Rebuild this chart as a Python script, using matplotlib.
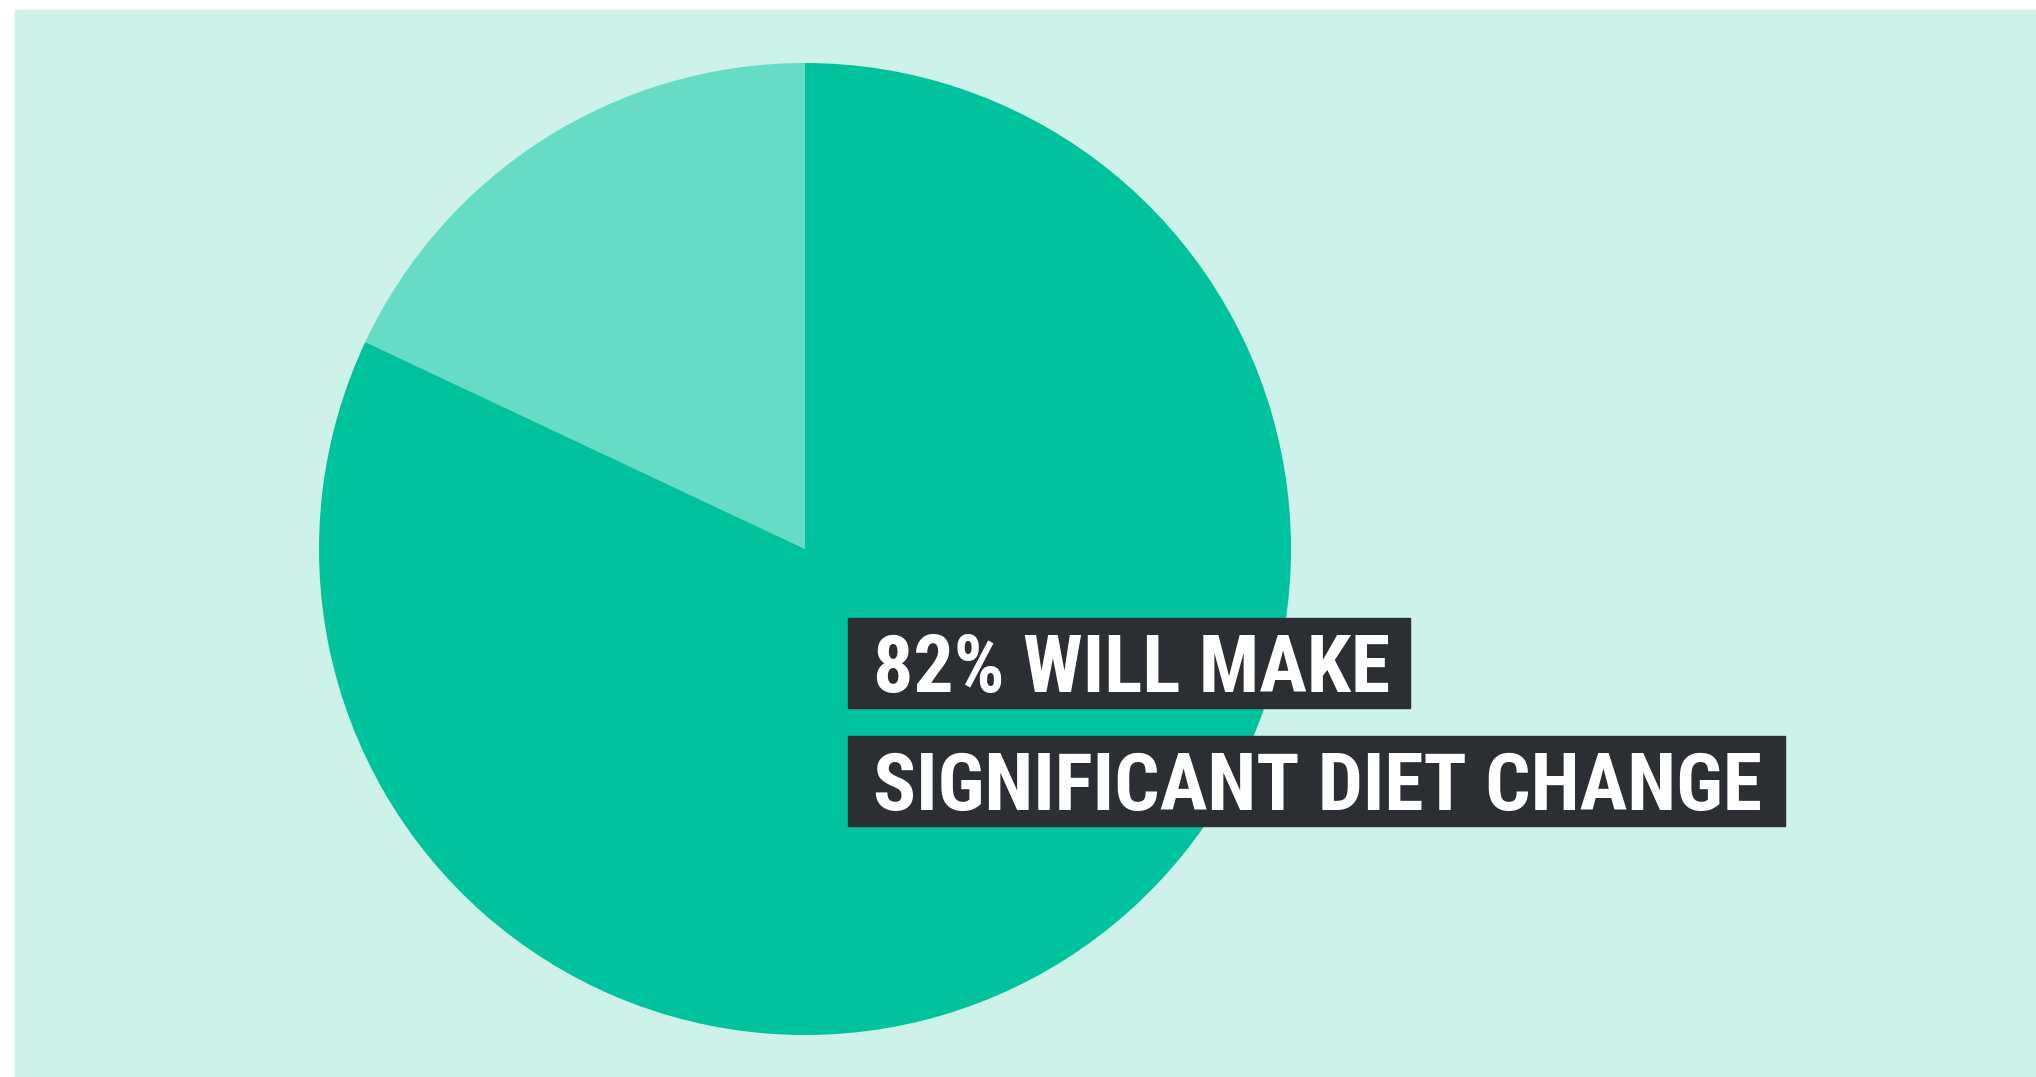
import matplotlib
matplotlib.use("Agg")
import matplotlib.pyplot as plt
from matplotlib import font_manager
from matplotlib.patches import Rectangle

# ---- data ---------------------------------------------------------------- #
labels = ["Will not", "Will make significant diet change"]
shares = [18, 82]
slice_colors = ["#66dcc4", "#00c29d"]
caption_lines = ["82% WILL MAKE", "SIGNIFICANT DIET CHANGE"]

BG = "#ccf2ea"
BOX = "#2b2f33"
W, H = 2036, 1077


def pick_font():
    fl = font_manager.fontManager.ttflist
    for name in ("Roboto Condensed", "Open Sans Condensed", "Liberation Sans Narrow"):
        if any(f.name == name for f in fl):
            return dict(family=name, stretch="normal")
    for name in ("Roboto", "Open Sans", "DejaVu Sans", "Noto Sans"):
        if any(f.name == name and f.stretch in ("condensed", "semi-condensed", 75, 87.5)
               for f in fl):
            return dict(family=name, stretch="condensed")
    return dict(family="DejaVu Sans", stretch="normal")


FONT = pick_font()

fig = plt.figure(figsize=(W / 100, H / 100), dpi=100)
fig.patch.set_facecolor("white")
fig.patches.append(Rectangle((15 / W, 0), 1 - 15 / W, 1 - 10 / H,
                             transform=fig.transFigure, color=BG, zorder=-5))

# pie: centre (805, 549) px from top-left, radius 486 px
cx, cy, r = 805, 549, 486
ax = fig.add_axes([(cx - r) / W, (H - cy - r) / H, 2 * r / W, 2 * r / H])
ax.set_zorder(1)
ax.patch.set_visible(False)
ax.pie(shares, colors=slice_colors, startangle=90, counterclock=True,
       radius=1, wedgeprops=dict(linewidth=0))
ax.set_xlim(-1, 1); ax.set_ylim(-1, 1)
ax.set_aspect("auto")
ax.axis("off")

# caption boxes (left, top, right, bottom in px)
boxes = [(848, 618, 1410, 708), (848, 736, 1785, 826)]
for (x0, y0, x1, y1) in boxes:
    fig.patches.append(Rectangle((x0 / W, 1 - y1 / H), (x1 - x0) / W, (y1 - y0) / H,
                                 transform=fig.transFigure, color=BOX, zorder=3))

texts = []
for (x0, y0, x1, y1), s in zip(boxes, caption_lines):
    t = fig.text(873 / W, 1 - (y1 - 16) / H, s, color="white",
                 fontsize=50, fontweight="heavy", family=FONT["family"],
                 stretch=FONT["stretch"], ha="left", va="baseline", zorder=4)
    texts.append(t)

# scale font: long line spans ~890 px, cap height no more than ~58 px
fig.canvas.draw()
rend = fig.canvas.get_renderer()
w = texts[1].get_window_extent(rend).width
fs_w = 50 * 890 / w
fs_h = 58 / 0.71 * 72 / 100
fs = min(fs_w, fs_h)
for t in texts:
    t.set_fontsize(fs)

fig.savefig("out.png", dpi=100)
